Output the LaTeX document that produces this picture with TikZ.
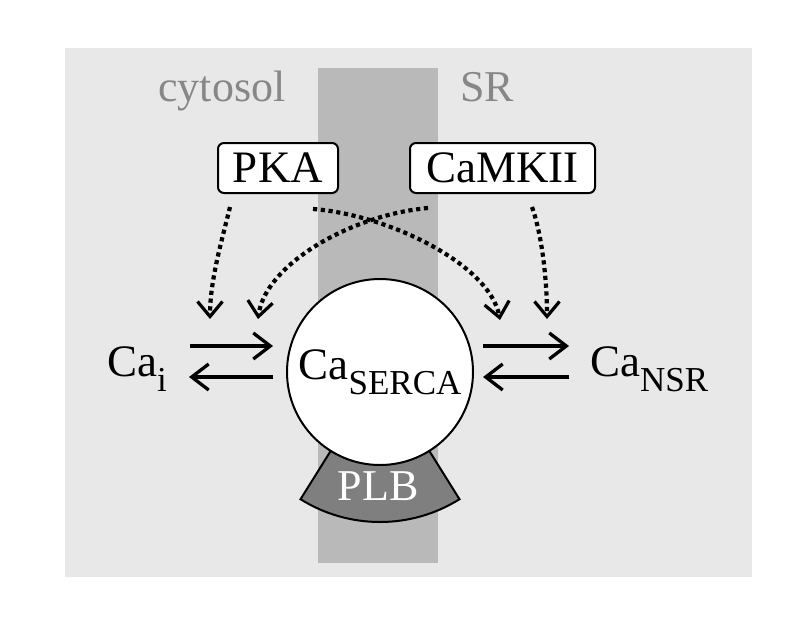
\documentclass[tikz,border=0pt]{standalone}
\usepackage{fontspec}
\setmainfont{Liberation Serif}
\usetikzlibrary{arrows.meta}
\definecolor{bgray}{HTML}{E8E8E8}
\definecolor{band}{HTML}{B9B9B9}
\definecolor{plbgray}{HTML}{7F7F7F}
\definecolor{labgray}{HTML}{878787}
\newcommand\mysub[1]{\raisebox{-15pt}{\fontsize{35}{38}\selectfont #1}}
\begin{document}
\begin{tikzpicture}[x=1pt,y=-1pt,
  big/.style={font=\fontsize{45}{50}\selectfont},
  region/.style={font=\fontsize{44}{48}\selectfont, text=labgray, anchor=base, inner sep=0pt},
  kinase/.style={draw, line width=2pt, rounded corners=6pt, fill=white, inner sep=0pt,
    minimum height=50pt, font=\fontsize{45}{50}\selectfont},
  react/.style={line width=3.3pt, -{Straight Barb[length=17pt,width=26pt,line width=3.3pt]}},
  reg/.style={line width=4.2pt, dash pattern=on 4.2pt off 3.6pt,
    -{Straight Barb[length=15pt,width=25pt,line width=3.2pt]}},
  plb/.style={fill=plbgray, draw=black, line width=2pt}
]
\useasboundingbox (0,0) rectangle (791,616);
\fill[bgray] (65,48) rectangle (752,577);
\fill[band] (318,68) rectangle (438,563);

\node[region] (cyt) at (222,101) {cytosol};
\node[region] (sr) at (487,101) {SR};

% PLB sector
\coordinate (sc) at (380,372);
\draw[plb] ([shift={(122:90)}]sc) arc[start angle=122, end angle=58, radius=90]
  -- ([shift={(58:150)}]sc) arc[start angle=58, end angle=122, radius=150] -- cycle;
\node[font=\fontsize{44}{48}\selectfont, text=white, anchor=base, inner sep=0pt] (plbl) at (378,500) {PLB};

% SERCA
\node[circle, draw, line width=2pt, fill=white, minimum size=186pt, inner sep=0pt, big] (serca) at (sc) {Ca\mysub{SERCA}};

% Ca pools
\node[big, anchor=base west, inner sep=0pt] (cai) at (107,376) {Ca\mysub{i}};
\node[big, anchor=base west, inner sep=0pt] (cansr) at (590,376) {Ca\mysub{NSR}};

% kinases
\node[kinase, minimum width=120pt] (pka) at (278,168) {PKA};
\node[kinase, minimum width=185pt] (camk) at (502.5,168) {CaMKII};

% reaction arrows
\coordinate (l1) at (190,346); \coordinate (r1) at (273,346);
\coordinate (l2) at (189,377); \coordinate (r2) at (273,377);
\coordinate (l3) at (483,346); \coordinate (r3) at (569,346);
\coordinate (l4) at (483,377); \coordinate (r4) at (569,377);
\draw[react] (l1) -- (r1);
\draw[react] (r2) -- (l2);
\draw[react] (l3) -- (r3);
\draw[react] (r4) -- (l4);

% regulation arrows
\coordinate (p1) at (230,207); \coordinate (t1) at (210,319);
\coordinate (p2) at (428,208); \coordinate (t2) at (258,319);
\coordinate (p3) at (313,209); \coordinate (t3) at (500,320);
\coordinate (p4) at (532,207); \coordinate (t4) at (547,319);
\draw[reg] (p1) .. controls (222,240) and (210,280) .. (t1);
\draw[reg] (p2) .. controls (350,215) and (265,265) .. (t2);
\draw[reg] (p3) .. controls (390,215) and (490,265) .. (t3);
\draw[reg] (p4) .. controls (542,235) and (547,280) .. (t4);
\end{tikzpicture}
\end{document}
